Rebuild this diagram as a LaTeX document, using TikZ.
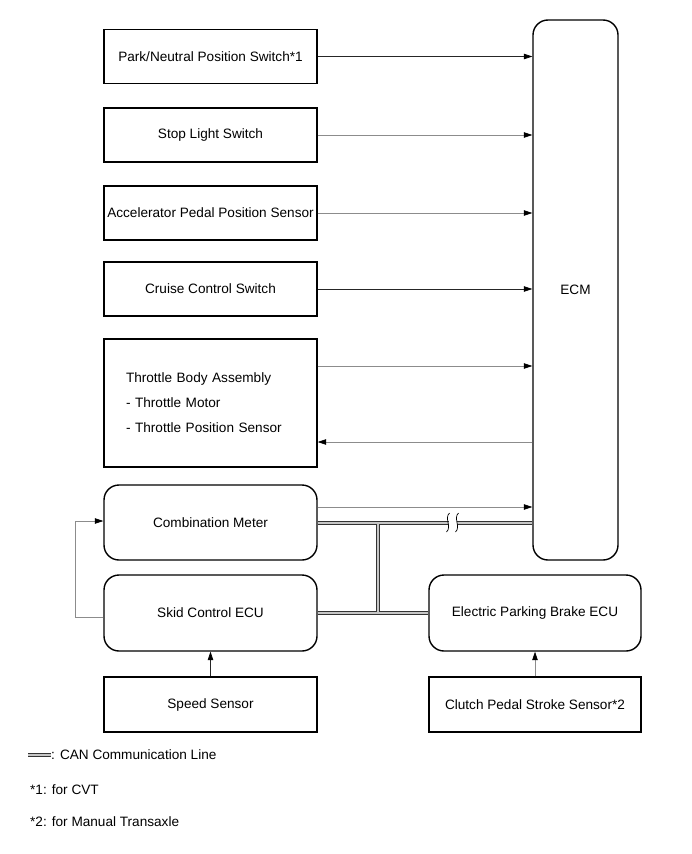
\documentclass[tikz,border=0pt]{standalone}
\usepackage{fontspec}
\setmainfont{Liberation Sans}
\usetikzlibrary{arrows.meta,positioning}

\begin{document}
\begin{tikzpicture}[
  x=1pt, y=-1pt,
  font=\fontsize{13.6}{16}\selectfont,
  >={Triangle[length=8.5pt,width=5.5pt,color=black]},
  % input / sensor box (square corners)
  part/.style={draw, line width=1.4pt, minimum width=213pt,
               minimum height=54pt, align=center, inner sep=0pt},
  % control unit box (rounded)
  ecu/.style={part, rounded corners=15pt, minimum height=76pt},
  % signal arrows
  sig/.style={->, line width=0.7pt, draw=black!85},
  sigg/.style={->, line width=0.7pt, draw=black!45},
  % CAN bus line
  can/.style={draw=black!80, line width=1pt, double=gray!45,
              double distance=2pt},
]
\useasboundingbox (0,0) rectangle (691,854);

%% -- column centres --------------------------------------------------------
\def\xl{210.5}  % left column
\def\xr{535}    % right column (EPB / clutch)

%% -- ECM -------------------------------------------------------------------
\node[ecu, minimum width=85pt, minimum height=540pt] (ecm) at (575.5,290) {ECM};

%% -- left column inputs ----------------------------------------------------
\node[part] (pnp)  at (\xl,56.5) {Park/Neutral Position Switch*1};
\node[part] (stop) at (\xl,135)  {Stop Light Switch};
\node[part] (apps) at (\xl,213)  {Accelerator Pedal Position Sensor};
\node[part] (ccs)  at (\xl,289)  {Cruise Control Switch};
\node[part, minimum height=128pt, text width=169pt, inner xsep=22pt,
      align=left, font=\fontsize{13.6}{25}\selectfont] (thr) at (\xl,403)
  {Throttle Body Assembly\\- Throttle Motor\\- Throttle Position Sensor};

%% -- ECUs and sensors ------------------------------------------------------
\node[ecu, minimum height=75pt] (comb) at (\xl,522.5) {Combination Meter};
\node[ecu] (skid) at (\xl,613) {Skid Control ECU};
\node[part, minimum height=55pt] (spd) at (\xl,704.5) {Speed Sensor};
\node[ecu, minimum width=212pt] (epb) at (\xr,613) {Electric Parking Brake ECU};
\node[part, minimum width=212pt, minimum height=55pt] (cpss) at (\xr,704.5)
  {Clutch Pedal Stroke Sensor*2};

%% -- signal lines to / from ECM ------------------------------------------
\draw[sig]  (pnp.east)  -- (pnp.east -| ecm.west);
\draw[sigg] (stop.east) -- (stop.east -| ecm.west);
\draw[sigg] (apps.east) -- (apps.east -| ecm.west);
\draw[sig]  (ccs.east)  -- (ccs.east -| ecm.west);
\coordinate (thrO) at ([yshift=37pt]thr.east);
\coordinate (thrI) at ([yshift=-39pt]thr.east);
\draw[sigg] (thrO) -- (thrO -| ecm.west);
\draw[sigg] (thrI -| ecm.west) -- (thrI);
\coordinate (combO) at ([yshift=15.5pt]comb.east);
\draw[sigg] (combO) -- (combO -| ecm.west);

%% -- skid control -> combination meter -----------------------------------
\draw[sigg] ([yshift=-4pt]skid.west) -- ++(-28,0) |- ([yshift=1.5pt]comb.west);

%% -- sensors up to ECUs ----------------------------------------------------
\draw[sig]  (spd.north)  -- (skid.south);
\draw[sigg] (cpss.north) -- (epb.south);

%% -- CAN bus ---------------------------------------------------------------
\coordinate (tee)  at (378,0);
\coordinate (brkL) at (449,0);
\coordinate (brkR) at (457,0);
\draw[can] (comb.east) -- (comb.east -| brkL)
  (comb.east -| brkR) -- (comb.east -| ecm.west)
  (comb.east -| tee) -- (skid.east -| tee)
  (skid.east) -- (epb.west);
% break marks
\foreach \bx in {448,457}
  \draw[line width=0.7pt] (\bx+1.5,513) .. controls (\bx-4,518) and (\bx+4,527) .. (\bx-1.5,532);

%% -- legend ----------------------------------------------------------------
\coordinate (lgA) at (28,755);
\coordinate (lgB) at (51,755);
\draw[can] (lgA) -- (lgB);
\node[anchor=west, inner sep=0pt] (lgcan) at (lgB) {: CAN Communication Line};
\node[anchor=west, inner sep=0pt] (lg1) at (30,790) {*1: for CVT};
\node[anchor=west, inner sep=0pt] (lg2) at (30,822) {*2: for Manual Transaxle};

\end{tikzpicture}
\end{document}
